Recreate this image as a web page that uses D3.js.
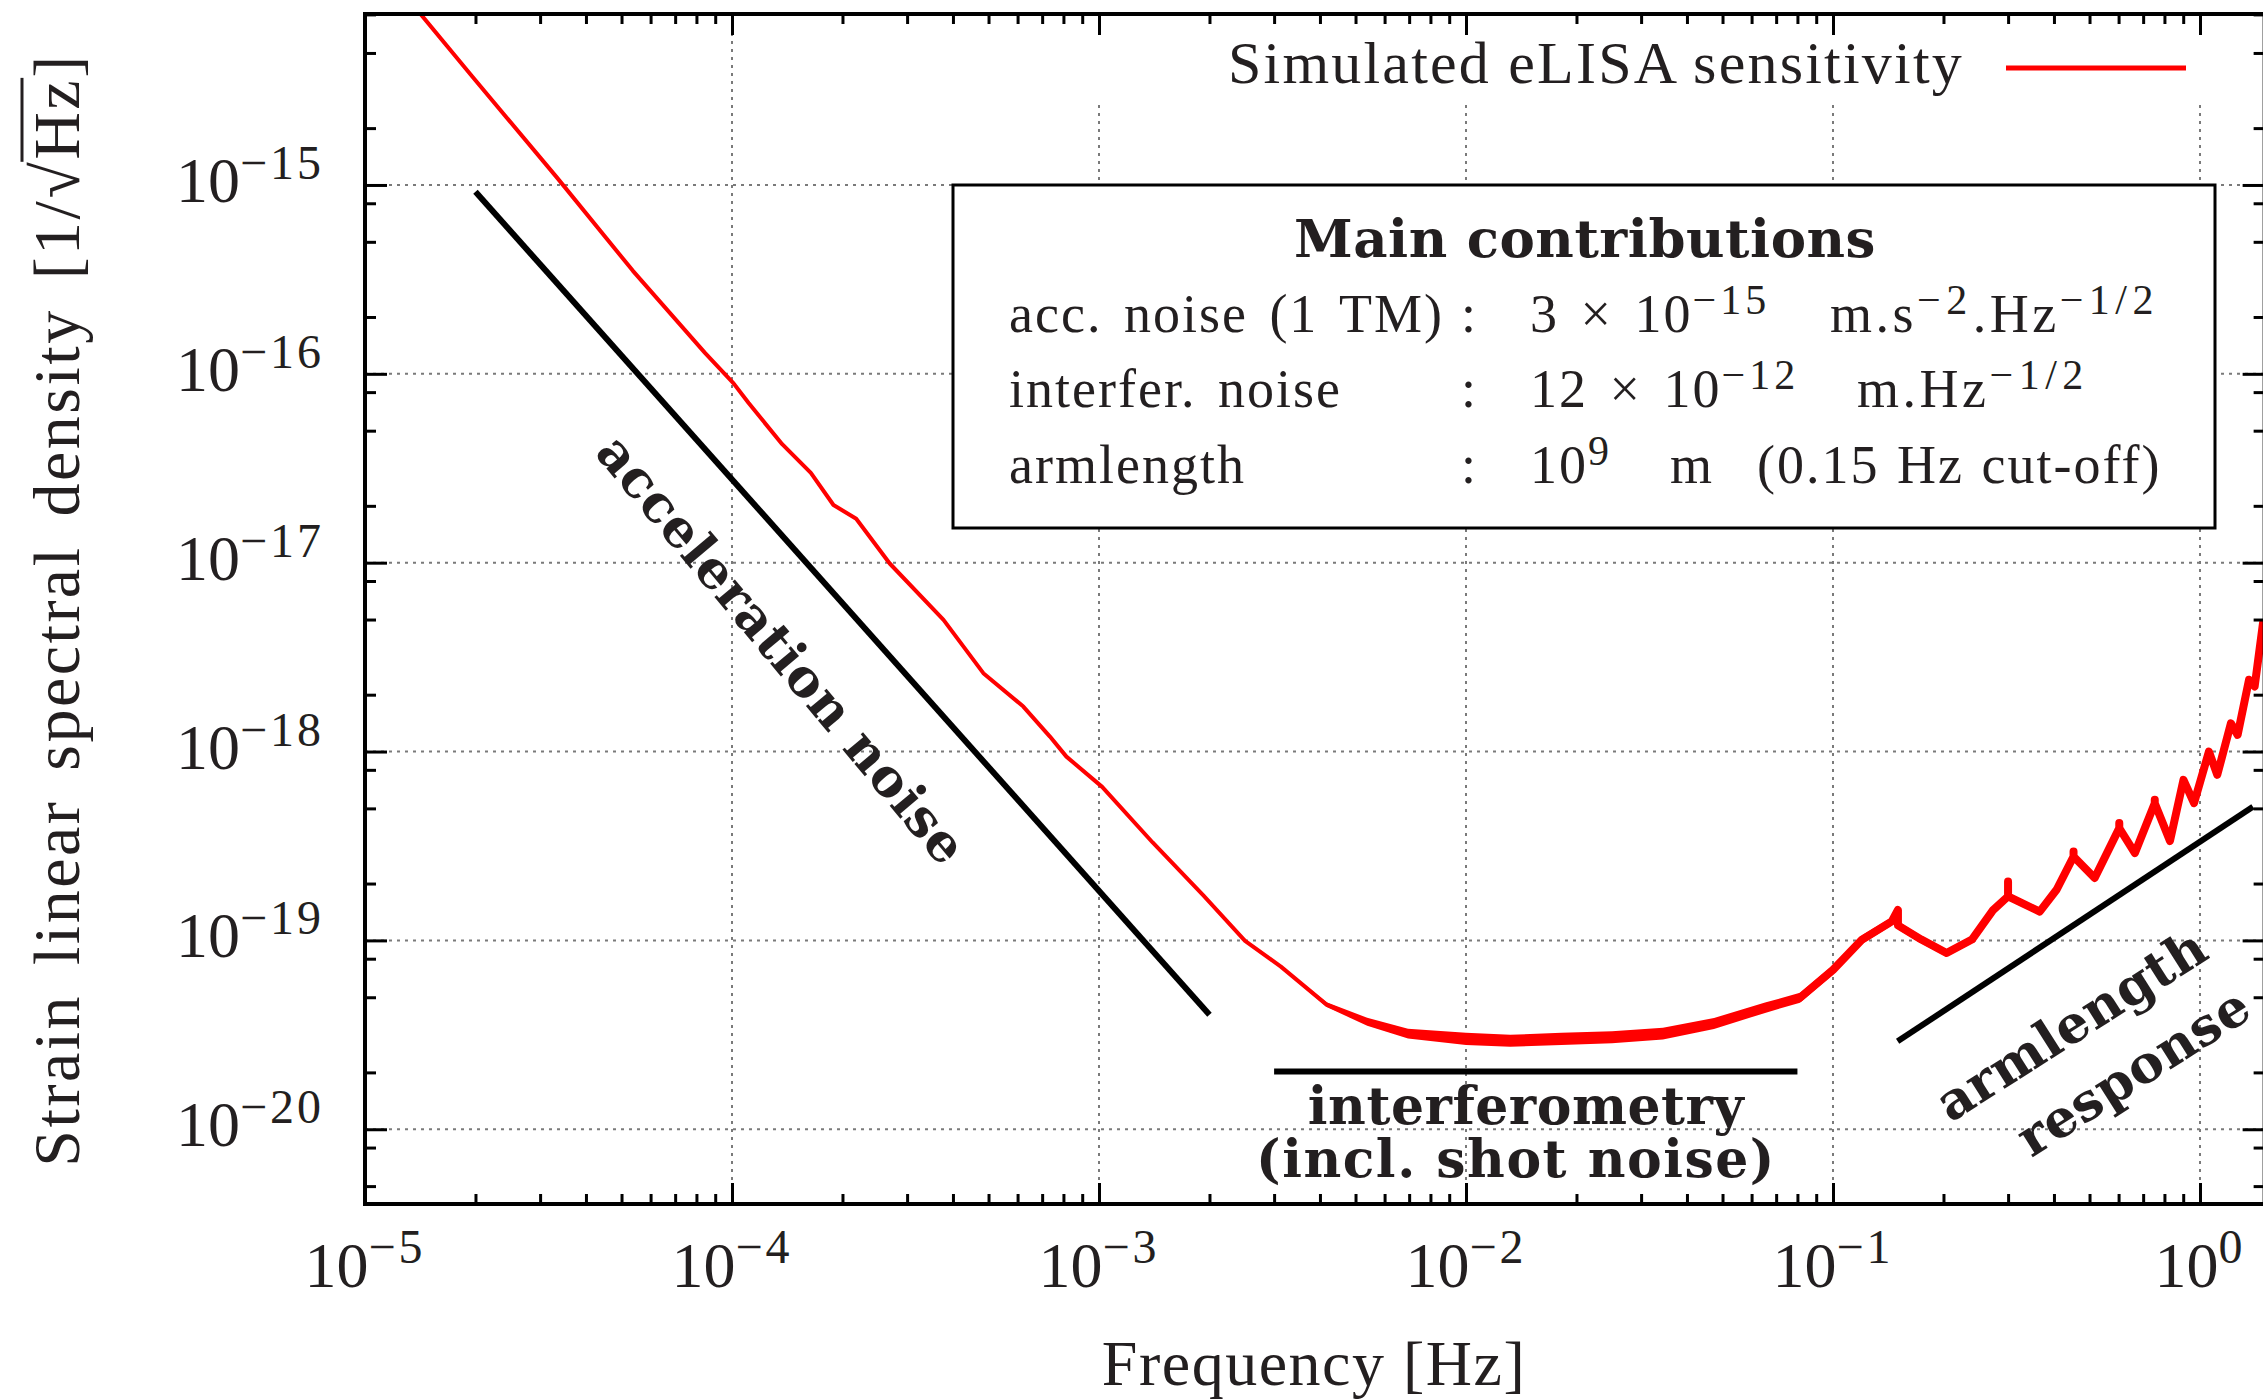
<!DOCTYPE html>
<html>
<head>
<meta charset="utf-8">
<script src="https://cdn.jsdelivr.net/npm/d3@7"></script>
<style>
  body { margin: 0; background: white; }
  svg { display: block; }
</style>
</head>
<body>
<div id="chart"></div>
<script>
// Simulated eLISA sensitivity: frequency [Hz] and strain [1/sqrt(Hz)]
let sensFreq = [
    1.42e-5, 1.96e-5, 3.34e-5, 5.37e-5, 8.44e-5, 1.01e-4, 1.11e-4, 1.37e-4, 1.64e-4, 1.89e-4,
    2.18e-4, 2.69e-4, 3.77e-4, 4.84e-4, 6.22e-4, 7.35e-4, 8.15e-4, 1.02e-3, 1.40e-3, 1.93e-3,
    2.50e-3, 3.13e-3, 4.17e-3, 5.38e-3, 6.95e-3, 1.00e-2, 1.32e-2, 1.82e-2, 2.50e-2, 3.44e-2,
    4.74e-2, 6.53e-2, 8.13e-2, 0.100, 0.120, 0.1446, 0.1503, 0.1503, 0.1741, 0.2039,
    0.2391, 0.2732, 0.2999, 0.2999, 0.2999, 0.3658, 0.407, 0.4523, 0.4523, 0.4523,
    0.5164, 0.6026, 0.6026, 0.6026, 0.6647, 0.7529, 0.7529, 0.7529, 0.8283, 0.9015,
    0.9631, 1.0575, 1.1146, 1.214, 1.2662, 1.360, 1.409, 1.485
];
let sensStrain = [
    8.0e-15, 3.75e-15, 1.09e-15, 3.51e-16, 1.29e-16, 8.9e-17, 7.0e-17, 4.24e-17, 2.99e-17, 2.02e-17,
    1.71e-17, 9.9e-18, 4.98e-18, 2.60e-18, 1.73e-18, 1.20e-18, 9.4e-19, 6.5e-19, 3.30e-19, 1.72e-19,
    9.95e-20, 7.26e-20, 4.57e-20, 3.71e-20, 3.21e-20, 3.01e-20, 2.94e-20, 3.01e-20, 3.07e-20, 3.21e-20,
    3.63e-20, 4.40e-20, 4.97e-20, 6.98e-20, 1.01e-19, 1.26e-19, 1.45e-19, 1.20e-19, 1.01e-19, 8.57e-20,
    1.01e-19, 1.45e-19, 1.71e-19, 2.05e-19, 1.71e-19, 1.42e-19, 1.86e-19, 2.78e-19, 2.96e-19, 2.78e-19,
    2.14e-19, 3.93e-19, 4.18e-19, 3.93e-19, 2.90e-19, 5.33e-19, 5.55e-19, 5.33e-19, 3.36e-19, 7.08e-19,
    5.33e-19, 1.0e-18, 7.53e-19, 1.41e-18, 1.225e-18, 2.40e-18, 2.21e-18, 4.79e-18
];

// Half width of the noisy band around the curve (decades of strain)
let noiseFreq = [1e-5, 2.5e-3, 4e-3, 6e-3, 1e-2, 3e-2, 8e-2, 0.2, 1.5];
let noiseHalf = [0, 0, 0.012, 0.024, 0.032, 0.032, 0.026, 0.02, 0.016];
// above this frequency the noisy curve is steep, so it is drawn with a wider pen
let steepFrom = 0.08;

// Straight guide lines: [f0, f1] and [h0, h1]
let accelFreq = [2e-5, 2e-3];
let accelStrain = [9.2e-16, 4.04e-20];
let interfFreq = [3e-3, 8e-2];
let interfStrain = [2.02e-20, 2.02e-20];
let armFreq = [0.150, 1.394];
let armStrain = [2.92e-20, 5.1e-19];

// Axis ticks
let xTickExp = [-5, -4, -3, -2, -1, 0];
let yTickExp = [-20, -19, -18, -17, -16, -15];
let xMinorMult = [2, 3, 4, 5, 6, 7, 8, 9];
let yMinorMult = [2, 5, 8];

// Box contents
let boxTitle = "Main contributions";
let boxRows = [
    {name: "acc. noise (1 TM)", value: [["3 × 10", 0], ["\u221215", 1]], unit: [["m.s", 0], ["\u22122", 1], [".Hz", 0], ["\u22121/2", 1]]},
    {name: "interfer. noise", value: [["12 × 10", 0], ["\u221212", 1]], unit: [["m.Hz", 0], ["\u22121/2", 1]]},
    {name: "armlength", value: [["10", 0], ["9", 1]], unit: [["m", 0]], extra: "(0.15 Hz cut-off)"}
];

let W = 2263;
let H = 1399;
let regular = "'Liberation Serif', 'Times New Roman', serif";
let bold = "'DejaVu Serif', serif";
let ink = "#231f20";

let x = d3.scaleLog()
    .domain([1e-5, 1.5])
    .range([365, 365 + 367 * Math.log10(1.5e5)]);
let y = d3.scaleLog()
    .domain([4.02e-21, 8.04e-15])
    .range([1204, 14]);

let [x0, x1] = x.range();
let [y0, y1] = y.range();

let svg = d3.select("#chart")
    .append("svg")
    .attr("width", W)
    .attr("height", H)
    .style("background", "white");

svg.append("defs").append("clipPath")
    .attr("id", "plot-clip")
    .append("rect")
    .attr("x", x0).attr("y", y1)
    .attr("width", x1 - x0).attr("height", y0 - y1);

let xMajor = xTickExp.map(e => Math.pow(10, e));
let yMajor = yTickExp.map(e => Math.pow(10, e));
let xMinor = [];
for (let e of xTickExp) {
    for (let m of xMinorMult) {
        let v = m * Math.pow(10, e);
        if (v <= x.domain()[1]) xMinor.push(v);
    }
}
let yMinor = [];
for (let e = -21; e <= -15; e++) {
    for (let m of yMinorMult) {
        let v = m * Math.pow(10, e);
        if (v >= y.domain()[0] && v <= y.domain()[1]) yMinor.push(v);
    }
}

// Grid
let grid = svg.append("g")
    .attr("stroke", "#7a7a7a")
    .attr("stroke-width", 2)
    .attr("stroke-dasharray", "3,5");
grid.selectAll("line.vx")
    .data(xMajor.slice(1))
    .join("line")
    .attr("class", "vx")
    .attr("x1", d => x(d)).attr("x2", d => x(d))
    .attr("y1", y0).attr("y2", y1);
grid.selectAll("line.hy")
    .data(yMajor)
    .join("line")
    .attr("class", "hy")
    .attr("x1", x0).attr("x2", x1)
    .attr("y1", d => y(d)).attr("y2", d => y(d));

// Legend background hides the grid behind the key
svg.append("rect")
    .attr("x", 1080).attr("y", y1 + 2)
    .attr("width", x1 - 1080).attr("height", 86)
    .attr("fill", "white");

// Main contributions box
svg.append("rect")
    .attr("x", 953).attr("y", 185)
    .attr("width", 1262).attr("height", 343)
    .attr("fill", "white")
    .attr("stroke", "black")
    .attr("stroke-width", 3);

// Sensitivity curve
let sens = sensFreq.map((f, i) => ({f: f, h: sensStrain[i]}));
let halfScale = d3.scaleLog().domain(noiseFreq).range(noiseHalf).clamp(true);
let curveLine = d3.line().x(d => x(d.f)).y(d => y(d.h));

let plotArea = svg.append("g").attr("clip-path", "url(#plot-clip)");

plotArea.append("path")
    .datum(sens)
    .attr("fill", "red")
    .attr("d", d3.area()
        .x(d => x(d.f))
        .y0(d => y(d.h * Math.pow(10, -halfScale(d.f))))
        .y1(d => y(d.h * Math.pow(10, halfScale(d.f)))));

plotArea.append("path")
    .datum(sens)
    .attr("fill", "none")
    .attr("stroke", "red")
    .attr("stroke-width", 4)
    .attr("stroke-linejoin", "round")
    .attr("d", curveLine);

plotArea.append("path")
    .datum(sens.filter(d => d.f >= steepFrom))
    .attr("fill", "none")
    .attr("stroke", "red")
    .attr("stroke-width", 8)
    .attr("stroke-linejoin", "round")
    .attr("stroke-linecap", "round")
    .attr("d", curveLine);

// Guide lines
let guides = [[accelFreq, accelStrain], [interfFreq, interfStrain], [armFreq, armStrain]];
plotArea.selectAll("line.guide")
    .data(guides)
    .join("line")
    .attr("class", "guide")
    .attr("x1", d => x(d[0][0])).attr("y1", d => y(d[1][0]))
    .attr("x2", d => x(d[0][1])).attr("y2", d => y(d[1][1]))
    .attr("stroke", "black")
    .attr("stroke-width", 6);

// Frame and ticks
let axes = svg.append("g");
axes.append("g")
    .attr("transform", `translate(0,${y0})`)
    .call(d3.axisBottom(x).tickValues(xMajor).tickSize(-21).tickFormat(""));
axes.append("g")
    .attr("transform", `translate(0,${y0})`)
    .call(d3.axisBottom(x).tickValues(xMinor).tickSize(-10).tickFormat(""));
axes.append("g")
    .attr("transform", `translate(0,${y1})`)
    .call(d3.axisTop(x).tickValues(xMajor).tickSize(-21).tickFormat(""));
axes.append("g")
    .attr("transform", `translate(0,${y1})`)
    .call(d3.axisTop(x).tickValues(xMinor).tickSize(-10).tickFormat(""));
axes.append("g")
    .attr("transform", `translate(${x0},0)`)
    .call(d3.axisLeft(y).tickValues(yMajor).tickSize(-22).tickFormat(""));
axes.append("g")
    .attr("transform", `translate(${x0},0)`)
    .call(d3.axisLeft(y).tickValues(yMinor).tickSize(-11).tickFormat(""));
axes.append("g")
    .attr("transform", `translate(${x1},0)`)
    .call(d3.axisRight(y).tickValues(yMajor).tickSize(-22).tickFormat(""));
axes.append("g")
    .attr("transform", `translate(${x1},0)`)
    .call(d3.axisRight(y).tickValues(yMinor).tickSize(-11).tickFormat(""));
axes.selectAll(".domain").remove();
axes.selectAll(".tick line").attr("stroke", "black").attr("stroke-width", 3);

svg.append("rect")
    .attr("x", x0).attr("y", y1)
    .attr("width", x1 - x0).attr("height", y0 - y1)
    .attr("fill", "none")
    .attr("stroke", "black")
    .attr("stroke-width", 4);

// Power-of-ten labels
function power(sel, base, exp, mainSize, supSize, rise) {
    sel.append("tspan").style("font-size", mainSize + "px").text(base);
    sel.append("tspan").attr("dy", -rise)
        .style("font-size", supSize + "px")
        .style("letter-spacing", "3px")
        .text(exp);
}
let minus = e => (e < 0 ? "\u2212" + (-e) : "" + e);

svg.selectAll("text.xlab")
    .data(xTickExp)
    .join("text")
    .attr("class", "xlab")
    .attr("x", d => x(Math.pow(10, d)))
    .attr("y", 1287)
    .attr("text-anchor", "middle")
    .style("font-family", regular)
    .style("fill", ink)
    .each(function(d) { power(d3.select(this), "10", minus(d), 64, 48, 24); });

svg.selectAll("text.ylab")
    .data(yTickExp)
    .join("text")
    .attr("class", "ylab")
    .attr("x", 324)
    .attr("y", d => y(Math.pow(10, d)) + 17)
    .attr("text-anchor", "end")
    .style("font-family", regular)
    .style("fill", ink)
    .each(function(d) { power(d3.select(this), "10", minus(d), 64, 48, 23); });

// Axis titles
svg.append("text")
    .attr("x", (x0 + 2263) / 2)
    .attr("y", 1385)
    .attr("text-anchor", "middle")
    .style("font-family", regular)
    .style("font-size", "64px")
    .style("letter-spacing", "1.5px")
    .style("fill", ink)
    .text("Frequency [Hz]");

// y title, with a drawn vinculum over Hz for the square root
let ytitleText = "Strain linear spectral density [1/\u221AHz]";
let yTitleGroup = svg.append("g").attr("transform", "translate(79,610) rotate(-90)");
let ytitle = yTitleGroup.append("text")
    .attr("text-anchor", "middle")
    .style("font-family", regular)
    .style("font-size", "66px")
    .style("letter-spacing", "2.5px")
    .style("word-spacing", "10px")
    .style("fill", ink)
    .text(ytitleText);
let rootIdx = ytitleText.indexOf("\u221A");
let tn = ytitle.node();
let rootBox = tn.getExtentOfChar(rootIdx);
let hzEnd = tn.getEndPositionOfChar(rootIdx + 2).x;
yTitleGroup.append("line")
    .attr("x1", rootBox.x + rootBox.width - 2)
    .attr("x2", hzEnd)
    .attr("y1", rootBox.y + 2)
    .attr("y2", rootBox.y + 2)
    .attr("stroke", ink)
    .attr("stroke-width", 3);

// Legend
svg.append("text")
    .attr("x", 1964)
    .attr("y", 83)
    .attr("text-anchor", "end")
    .style("font-family", regular)
    .style("font-size", "60px")
    .style("letter-spacing", "2.2px")
    .style("fill", ink)
    .text("Simulated eLISA sensitivity");
svg.append("line")
    .attr("x1", 2006).attr("x2", 2186)
    .attr("y1", 68).attr("y2", 68)
    .attr("stroke", "red")
    .attr("stroke-width", 5);

// Box text
svg.append("text")
    .attr("x", 1585)
    .attr("y", 257)
    .attr("text-anchor", "middle")
    .style("font-family", bold)
    .style("font-weight", "bold")
    .style("font-size", "53px")
    .style("letter-spacing", "0.5px")
    .style("fill", ink)
    .text(boxTitle);

let rowY = [332, 407, 483];
let rowText = svg.append("g")
    .style("font-family", regular)
    .style("font-size", "54px")
    .style("letter-spacing", "2px")
    .style("word-spacing", "6px")
    .style("fill", ink);

function pieces(sel, parts, spacing) {
    let raised = false;
    for (let [t, sup] of parts) {
        let ts = sel.append("tspan").text(t).style("letter-spacing", spacing + "px");
        if (sup) ts.style("font-size", "42px").style("letter-spacing", (spacing + 2) + "px");
        if (sup && !raised) { ts.attr("dy", -18); raised = true; }
        else if (!sup && raised) { ts.attr("dy", 18); raised = false; }
    }
}

boxRows.forEach((r, i) => {
    rowText.append("text").attr("x", 1009).attr("y", rowY[i]).text(r.name);
    rowText.append("text").attr("x", 1461).attr("y", rowY[i]).text(":");
    pieces(rowText.append("text").attr("x", 1530).attr("y", rowY[i]), r.value, 2);
    let unitX = [1830, 1857, 1670][i];
    pieces(rowText.append("text").attr("x", unitX).attr("y", rowY[i]), r.unit, 3.5);
    if (r.extra) rowText.append("text").attr("x", 1757).attr("y", rowY[i])
        .style("word-spacing", "2px")
        .text(r.extra);
});

// Annotations
let notes = svg.append("g")
    .style("font-family", bold)
    .style("font-weight", "bold")
    .style("font-size", "52px")
    .style("letter-spacing", "0.5px")
    .style("fill", ink)
    .attr("text-anchor", "middle");

notes.append("text")
    .attr("transform", "translate(768,661) rotate(50)")
    .text("acceleration noise");
notes.append("text")
    .attr("x", 1526).attr("y", 1124)
    .text("interferometry");
notes.append("text")
    .attr("x", 1516).attr("y", 1177)
    .style("letter-spacing", "1.5px")
    .text("(incl. shot noise)");
notes.append("text")
    .attr("transform", "translate(2081,1040) rotate(-32.5)")
    .text("armlength");
notes.append("text")
    .attr("transform", "translate(2143,1087) rotate(-32.5)")
    .text("response");
</script>
</body>
</html>
